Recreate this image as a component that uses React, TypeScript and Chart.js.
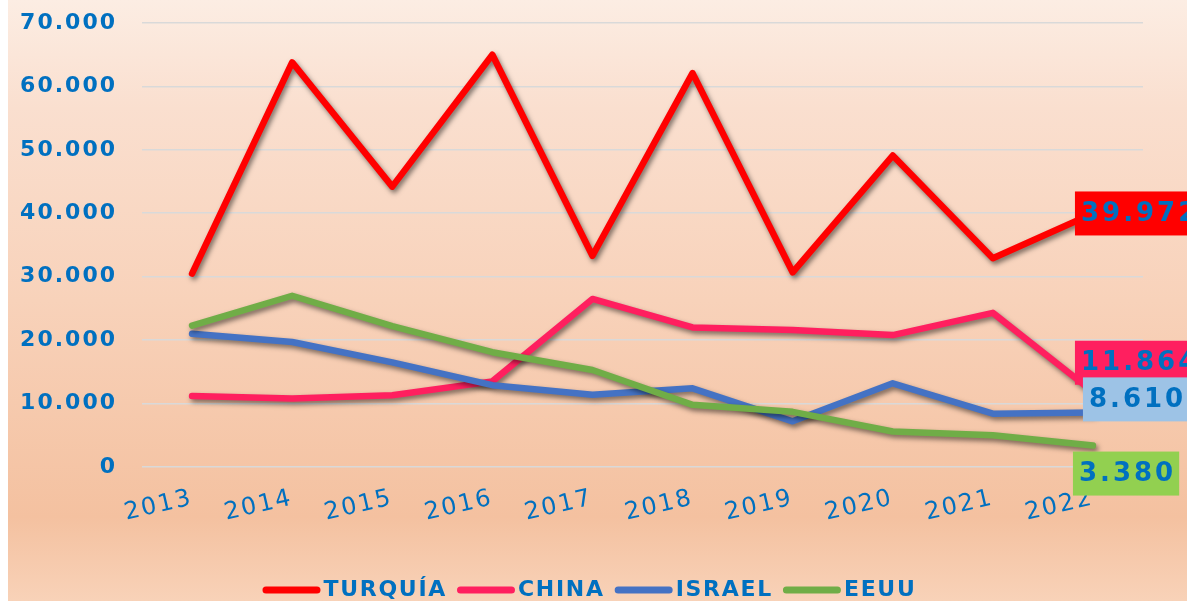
import React, { useEffect, useRef } from 'react';
import { Chart, registerables } from 'chart.js';

Chart.register(...registerables);

const years = ['2013', '2014', '2015', '2016', '2017', '2018', '2019', '2020', '2021', '2022'];
const turquia = [30500, 63800, 44200, 65000, 33300, 62100, 30700, 49100, 32900, 39972];
const china = [11200, 10800, 11300, 13500, 26500, 22000, 21600, 20800, 24300, 11864];
const israel = [21000, 19700, 16500, 12900, 11400, 12400, 7200, 13200, 8400, 8610];
const eeuu = [22300, 27000, 22200, 18100, 15300, 9800, 8700, 5600, 5000, 3380];
const seriesNames = ['TURQUÍA', 'CHINA', 'ISRAEL', 'EEUU'];
const seriesValues = [turquia, china, israel, eeuu];
const lineColors = ['#FF0000', '#FF1F5F', '#4472C4', '#70AD47'];
const labelBoxColors = ['#FF0000', '#FF1F5F', '#9DC3E6', '#92D050'];
const yMin = 0;
const yMax = 70000;
const yStep = 10000;

const TEXT_COLOR = '#0070C0';
const FAMILY = "'DejaVu Sans', sans-serif";

// label box placement relative to the last point: [left offset, center offset]
const labelOffsets = [
  [-18, 0],
  [-18, -29],
  [-10, -13],
  [-20, 28],
];

function fmt(v: number): string {
  const s = Math.round(v).toString();
  return s.replace(/\B(?=(\d{3})+(?!\d))/g, '.');
}

const spacingPlugin = {
  id: 'spacing',
  beforeLayout(chart: any) {
    chart.ctx.letterSpacing = '2px';
  },
  beforeDraw(chart: any) {
    chart.ctx.letterSpacing = '2px';
  },
};

const shadowPlugin = {
  id: 'lineShadow',
  beforeDatasetDraw(chart: any) {
    const ctx = chart.ctx;
    ctx.save();
    ctx.shadowColor = 'rgba(0,0,0,0.5)';
    ctx.shadowBlur = 5;
    ctx.shadowOffsetX = 2;
    ctx.shadowOffsetY = 3;
  },
  afterDatasetDraw(chart: any) {
    chart.ctx.restore();
  },
};

const endLabelPlugin = {
  id: 'endLabels',
  afterDatasetsDraw(chart: any) {
    const ctx = chart.ctx;
    ctx.save();
    ctx.font = `bold 26px ${FAMILY}`;
    ctx.letterSpacing = '3px';
    ctx.textBaseline = 'middle';
    ctx.textAlign = 'left';
    chart.data.datasets.forEach((ds: any, i: number) => {
      const meta = chart.getDatasetMeta(i);
      const last = meta.data[meta.data.length - 1];
      if (!last) return;
      const text = fmt(ds.data[ds.data.length - 1]);
      const w = ctx.measureText(text).width;
      const left = last.x + labelOffsets[i][0];
      const cy = last.y + labelOffsets[i][1];
      const h = 44;
      ctx.fillStyle = labelBoxColors[i];
      ctx.fillRect(left, cy - h / 2, w + 9, h);
      ctx.fillStyle = TEXT_COLOR;
      ctx.fillText(text, left + 6, cy + 1);
    });
    ctx.restore();
  },
};

const legendPlugin = {
  id: 'customLegend',
  afterDraw(chart: any) {
    const ctx = chart.ctx;
    ctx.save();
    ctx.font = `bold 22px ${FAMILY}`;
    ctx.letterSpacing = '1.7px';
    ctx.textBaseline = 'middle';
    ctx.textAlign = 'left';
    const lineLen = 51;
    const cap = 3.5;
    const gapText = 3;
    const gapItem = 10;
    const widths = seriesNames.map((n) => ctx.measureText(n).width);
    let total = 0;
    widths.forEach((w, i) => {
      total += cap * 2 + lineLen + gapText + w + (i < widths.length - 1 ? gapItem : 0);
    });
    let x = chart.width / 2 - total / 2 - 8;
    const y = 590;
    seriesNames.forEach((n, i) => {
      ctx.strokeStyle = lineColors[i];
      ctx.lineWidth = 7;
      ctx.lineCap = 'round';
      ctx.beginPath();
      ctx.moveTo(x + cap, y);
      ctx.lineTo(x + cap + lineLen, y);
      ctx.stroke();
      const tx = x + cap * 2 + lineLen + gapText;
      ctx.fillStyle = TEXT_COLOR;
      ctx.fillText(n, tx, y);
      x = tx + widths[i] + gapItem;
    });
    ctx.restore();
  },
};

export default function App() {
  const ref = useRef<HTMLCanvasElement>(null);

  useEffect(() => {
    if (!ref.current) return;
    const chart = new Chart(ref.current, {
      type: 'line',
      data: {
        labels: years,
        datasets: seriesValues.map((vals, i) => ({
          label: seriesNames[i],
          data: vals,
          borderColor: lineColors[i],
          backgroundColor: lineColors[i],
          borderWidth: 6.5,
          borderCapStyle: 'round' as const,
          borderJoinStyle: 'round' as const,
          pointRadius: 0,
          pointHoverRadius: 0,
          tension: 0,
          fill: false,
          order: seriesNames.length - i,
        })),
      },
      options: {
        responsive: false,
        animation: false,
        events: [],
        layout: { padding: { left: 0, right: 44, top: 23, bottom: 0 } },
        plugins: {
          legend: { display: false },
          tooltip: { enabled: false },
        },
        scales: {
          x: {
            type: 'category',
            offset: true,
            grid: { display: false, drawTicks: false },
            border: { display: false },
            ticks: {
              autoSkip: false,
              minRotation: 13,
              maxRotation: 13,
              padding: 17,
              color: TEXT_COLOR,
              font: { family: FAMILY, size: 24, weight: 'normal' },
            },
            afterFit(scale: any) {
              scale.height = 134;
              scale.paddingLeft = 0;
              scale.paddingRight = 0;
            },
          },
          y: {
            min: yMin,
            max: yMax,
            grid: { color: '#D9D9D9', lineWidth: 1.6, drawTicks: false },
            border: { display: false },
            ticks: {
              stepSize: yStep,
              padding: 25,
              color: TEXT_COLOR,
              font: { family: FAMILY, size: 22, weight: 'bold' },
              callback: (v: any) => fmt(Number(v)),
            },
            afterFit(scale: any) {
              scale.width = 134;
              scale.paddingTop = 0;
              scale.paddingBottom = 0;
            },
          },
        },
      },
      plugins: [spacingPlugin, shadowPlugin, endLabelPlugin, legendPlugin],
    });
    return () => chart.destroy();
  }, []);

  return (
    <div
      style={{
        position: 'absolute',
        left: 8,
        top: 0,
        width: 1179,
        height: 601,
        overflow: 'hidden',
        background:
          'linear-gradient(180deg, #FCEDE3 0%, #FADFCF 18%, #F8D2BA 50%, #F4C1A0 86%, #F8D2B8 100%)',
      }}
    >
      <canvas ref={ref} width={1179} height={601} style={{ display: 'block' }} />
    </div>
  );
}
